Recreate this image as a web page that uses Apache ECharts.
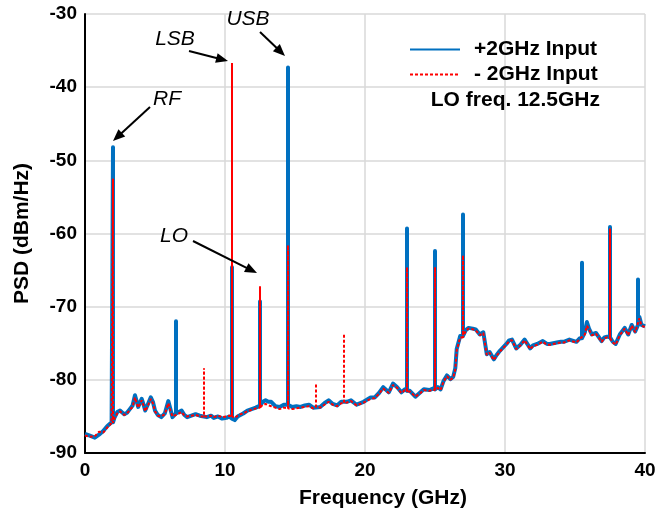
<!DOCTYPE html>
<html>
<head>
<meta charset="utf-8">
<script src="https://cdn.jsdelivr.net/npm/echarts@6/dist/echarts.min.js"></script>
<style>html,body{margin:0;padding:0;background:#fff;}#c{width:659px;height:514px;}</style>
</head>
<body>
<div id="c"></div>
<script>
// ---- data ----
const noiseFreq = [0.0,0.3,0.7,1.0,1.3,1.6,1.9,2.1,2.3,2.5,2.8,3.0,3.2,3.4,3.57,3.7,3.8,3.95,4.05,4.2,4.3,4.5,4.7,4.85,5.0,5.2,5.45,5.7,5.95,6.1,6.25,6.7,6.9,7.1,7.3,7.6,7.9,8.2,8.7,9.0,9.2,9.5,9.8,10.1,10.3,10.7,10.9,11.1,11.3,11.6,11.9,12.2,12.7,12.9,13.1,13.3,13.6,13.9,14.2,14.8,15.1,15.4,15.7,16.0,16.3,16.8,17.1,17.4,17.7,18.0,18.3,18.7,19.0,19.4,19.9,20.4,20.7,21.0,21.3,21.7,22.0,22.3,22.6,22.85,23.2,23.6,23.9,24.2,24.6,24.85,25.2,25.4,25.6,25.85,26.1,26.3,26.45,26.55,26.8,27.2,27.4,27.7,27.9,28.2,28.45,28.7,28.9,29.2,29.4,29.65,29.9,30.1,30.3,30.5,30.8,31.1,31.4,31.8,32.0,32.3,32.7,33.0,33.2,33.7,34.0,34.2,34.6,35.1,35.35,35.7,35.85,36.0,36.2,36.5,36.9,37.1,37.3,37.7,37.9,38.2,38.55,38.8,39.05,39.3,39.6,39.75,40.0];
const blueNoise = [-87.4,-87.6,-87.9,-87.5,-87.0,-86.3,-85.8,-85.2,-84.4,-84.2,-84.7,-84.5,-84.0,-83.5,-82.1,-83.0,-83.7,-83.0,-82.6,-83.5,-84.2,-83.3,-82.4,-83.0,-84.2,-84.8,-85.1,-84.6,-82.9,-84.0,-85.1,-84.4,-84.2,-84.8,-85.1,-84.9,-84.7,-84.9,-85.1,-84.9,-85.2,-85.0,-85.3,-85.2,-85.0,-85.5,-85.0,-84.8,-84.6,-84.2,-84.0,-83.8,-83.0,-82.8,-83.0,-83.0,-83.6,-83.7,-83.4,-83.7,-83.6,-83.7,-83.5,-83.4,-83.8,-83.7,-83.2,-82.8,-83.3,-83.5,-83.0,-83.0,-82.8,-83.4,-83.0,-82.4,-82.4,-81.8,-81.0,-81.7,-80.5,-81.0,-81.7,-81.3,-81.5,-82.3,-81.8,-81.3,-81.4,-81.2,-81.0,-81.3,-80.2,-79.4,-79.9,-79.6,-78.4,-75.8,-74.0,-73.2,-72.9,-73.0,-73.1,-73.8,-73.5,-76.5,-76.2,-77.2,-76.6,-76.0,-75.5,-75.1,-74.6,-74.5,-75.7,-75.2,-74.5,-75.7,-75.3,-75.1,-74.7,-75.1,-75.1,-74.9,-74.8,-74.8,-74.5,-74.8,-74.3,-73.5,-72.1,-73.0,-73.8,-73.6,-74.7,-74.2,-74.1,-74.8,-75.1,-73.8,-72.9,-73.8,-72.5,-73.4,-71.4,-72.5,-72.7];
const redNoise = [-87.6,-87.8,-87.7,-87.1,-87.2,-86.5,-85.9,-85.3,-84.6,-84.3,-84.8,-84.6,-84.1,-83.7,-82.4,-83.2,-83.8,-83.2,-82.8,-83.6,-84.3,-83.5,-82.6,-83.2,-84.3,-84.9,-85.0,-84.7,-83.2,-84.2,-85.0,-84.6,-84.4,-84.9,-85.0,-84.9,-84.8,-85.0,-85.0,-84.9,-85.1,-84.9,-85.1,-85.0,-84.9,-85.2,-84.9,-84.7,-84.6,-84.3,-84.1,-83.9,-83.4,-83.3,-83.5,-83.6,-83.8,-84.0,-83.8,-84.0,-83.9,-83.8,-83.7,-83.6,-83.9,-83.8,-83.4,-83.0,-83.4,-83.6,-83.2,-83.1,-82.9,-83.5,-83.1,-82.6,-82.5,-81.9,-81.2,-81.8,-80.7,-81.1,-81.8,-81.4,-81.6,-82.3,-81.9,-81.4,-81.5,-81.3,-81.1,-81.4,-80.3,-79.5,-80.0,-79.7,-78.6,-76.0,-74.2,-73.3,-73.0,-73.1,-73.2,-73.9,-73.6,-76.6,-76.3,-77.3,-76.7,-76.1,-75.6,-75.2,-74.7,-74.6,-75.8,-75.3,-74.6,-75.8,-75.4,-75.2,-74.8,-75.2,-75.2,-75.0,-74.9,-74.9,-74.6,-74.9,-74.4,-73.8,-72.6,-73.1,-73.9,-73.7,-74.8,-74.3,-74.2,-74.9,-75.2,-73.9,-73.0,-73.9,-72.6,-73.5,-71.6,-72.6,-72.8];

const blueSpikeFreq = [2.0, 6.5, 10.5, 12.5, 14.5, 23.0, 25.0, 27.0, 35.5, 37.5, 39.5];
const blueSpikeBase = [-85.8, -84.6, -85.3, -83.5, -83.4, -81.5, -81.3, -74.0, -74.3, -74.2, -72.5];
const blueSpikePeak = [-48.2, -72.0, -64.6, -69.3, -37.3, -59.3, -62.4, -57.4, -64.0, -59.1, -66.3];

const redSpikeFreq = [2.0, 8.5, 10.5, 12.5, 14.5, 16.5, 18.5, 23.0, 25.0, 27.0, 37.5];
const redSpikeBase = [-85.9, -85.0, -85.0, -83.8, -83.9, -83.7, -83.2, -81.6, -81.4, -74.2, -74.3];
const redSpikePeak = [-52.5, -78.4, -36.7, -67.2, -61.6, -80.5, -73.7, -64.6, -64.6, -63.0, -59.3];

const xTicks = [0, 10, 20, 30, 40];
const yTicks = [-90, -80, -70, -60, -50, -40, -30];
const seriesNames = ['+2GHz Input', '- 2GHz Input'];
const loText = 'LO freq. 12.5GHz';

// ---- build series data ----
function build(freqs, vals, sF, sB, sP) {
  const pts = freqs.map((f, i) => [f, vals[i]]);
  for (let i = 0; i < sF.length; i++) {
    pts.push([sF[i], sB[i]], [sF[i], sP[i]], [sF[i], sB[i]]);
  }
  return pts.map((p, i) => ({p, i})).sort((a, b) => a.p[0] - b.p[0] || a.i - b.i).map(o => o.p);
}
const blueData = build(noiseFreq, blueNoise, blueSpikeFreq, blueSpikeBase, blueSpikePeak);
const redData = build(noiseFreq, redNoise, redSpikeFreq, redSpikeBase, redSpikePeak);

// ---- annotation arrows (pixel positions) ----
function arrow(x1, y1, x2, y2) {
  const dx = x2 - x1, dy = y2 - y1, len = Math.hypot(dx, dy);
  const ux = dx / len, uy = dy / len, nx = -uy, ny = ux;
  const L = 12, W = 5;
  const bx = x2 - ux * L, by = y2 - uy * L;
  return [
    {type: 'line', shape: {x1, y1, x2: bx + ux * 2, y2: by + uy * 2}, style: {stroke: '#000', lineWidth: 2}, z: 100},
    {type: 'polygon', shape: {points: [[x2, y2], [bx + nx * W, by + ny * W], [bx - nx * W, by - ny * W]]}, style: {fill: '#000'}, z: 100}
  ];
}
const annFont = 'italic 21px "Liberation Sans", Arial, sans-serif';
function label(text, x, y) {
  return {type: 'text', x, y, style: {text, font: annFont, fill: '#000', textAlign: 'center', textVerticalAlign: 'middle'}, z: 100};
}
const graphics = [
  label('RF', 167, 99), ...arrow(150, 107, 113, 141),
  label('LSB', 175, 39), ...arrow(189, 51, 228, 61),
  label('USB', 248, 19), ...arrow(260, 32, 285, 56),
  label('LO', 174, 236), ...arrow(193, 241, 257, 273),
  {type: 'text', x: 600, y: 100, style: {text: loText, font: 'bold 21px "Liberation Sans", Arial, sans-serif', fill: '#000', textAlign: 'right', textVerticalAlign: 'middle'}, z: 100}
];

const chart = echarts.init(document.getElementById('c'), null, {renderer: 'canvas'});
const fontFamily = '"Liberation Sans", Arial, sans-serif';
chart.setOption({
  animation: false,
  backgroundColor: '#fff',
  grid: {left: 85, right: 14, top: 14, bottom: 58, containLabel: false},
  legend: {
    orient: 'vertical', left: 404, top: 34, itemWidth: 50, itemHeight: 14, itemGap: 4,
    itemStyle: {opacity: 0},
    textStyle: {fontFamily, fontWeight: 'bold', fontSize: 21, color: '#000', lineHeight: 21, padding: [0, 0, 0, 9]},
    data: seriesNames
  },
  xAxis: {
    type: 'value', min: xTicks[0], max: xTicks[xTicks.length - 1], interval: 10,
    name: 'Frequency (GHz)', nameLocation: 'middle', nameGap: 35,
    nameTextStyle: {fontFamily, fontWeight: 'bold', fontSize: 21, color: '#000', padding: [0, 0, 0, 36]},
    axisLine: {show: true, lineStyle: {color: '#000', width: 2}},
    axisTick: {show: false},
    axisLabel: {fontFamily, fontWeight: 'bold', fontSize: 19, color: '#000', margin: 8},
    splitLine: {show: true, lineStyle: {color: '#d9d9d9', width: 1.5}}
  },
  yAxis: {
    type: 'value', min: yTicks[0], max: yTicks[yTicks.length - 1], interval: 10,
    name: 'PSD (dBm/Hz)', nameLocation: 'middle', nameGap: 52,
    nameTextStyle: {fontFamily, fontWeight: 'bold', fontSize: 21, color: '#000'},
    axisLine: {show: true, lineStyle: {color: '#000', width: 2}},
    axisTick: {show: false},
    axisLabel: {fontFamily, fontWeight: 'bold', fontSize: 19, color: '#000', margin: 8},
    splitLine: {show: true, lineStyle: {color: '#d9d9d9', width: 1.5}}
  },
  series: [
    {name: seriesNames[0], type: 'line', data: blueData, showSymbol: false, symbol: 'none',
     lineStyle: {color: '#0070c0', width: 4, join: 'round'}, itemStyle: {color: '#0070c0'}, z: 2},
    {name: seriesNames[1], type: 'line', data: redData, showSymbol: false, symbol: 'none',
     lineStyle: {color: '#ff0000', width: 2, type: [3, 2]}, itemStyle: {color: '#ff0000'}, z: 3}
  ],
  graphic: graphics
});
</script>
</body>
</html>
